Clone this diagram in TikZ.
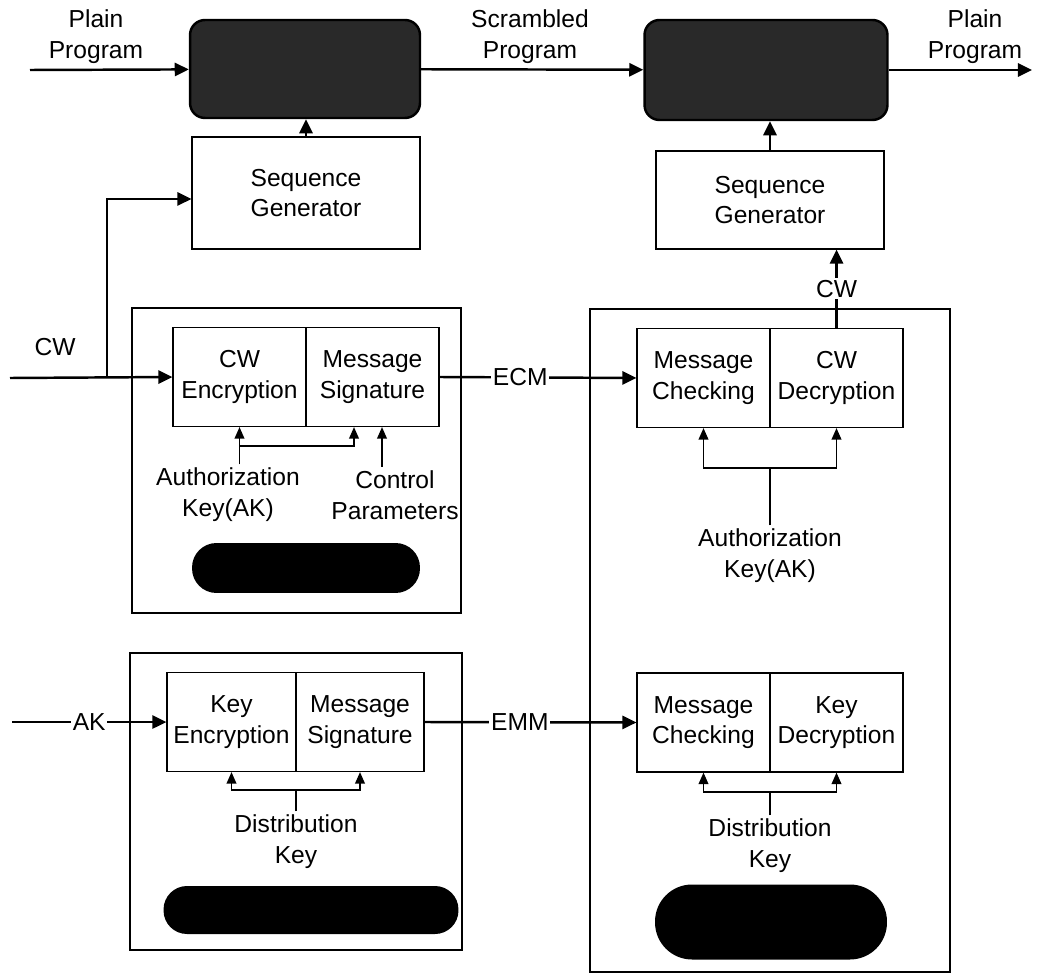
\documentclass[tikz,border=0pt]{standalone}
\usepackage{fontspec}
\setmainfont{Liberation Sans}
\usetikzlibrary{arrows.meta}

\begin{document}
\begin{tikzpicture}[x=0.02cm, y=-0.02cm,
  every node/.style={font=\fontsize{14}{17.5}\selectfont, align=center, inner sep=2pt},
  block/.style={draw, line width=0.7pt, minimum width=2.66cm, minimum height=1.98cm},
  seqbox/.style={draw, line width=0.7pt, minimum width=4.56cm},
  housing/.style={draw, line width=1.3pt},
  dark/.style={draw, line width=1.4pt, fill=black!84, rounded corners=0.3cm},
  pill/.style={fill=black},
  sig/.style={line width=1.4pt, -{Triangle[length=8pt,width=7.5pt]}},
  tap/.style={line width=0.8pt, -{Triangle[length=6.5pt,width=5.5pt]}},
  gap/.style={fill=white, inner sep=1pt}
]
\useasboundingbox (0,0) rectangle (1044,976);

% scrambling path
\node[dark, minimum width=4.6cm, minimum height=1.96cm] (scr) at (305,69) {};
\node[dark, minimum width=4.86cm, minimum height=2cm] (dscr) at (766,70) {};
\node (plainIn) at (96,37) {Plain\\Program};
\node (scrTxt) at (530,37) {Scrambled\\Program};
\node (plainOut) at (975,37) {Plain\\Program};
\coordinate (in) at (30,70);
\coordinate (out) at (1032,70);
\draw[sig] (in) -- (scr);
\draw[sig] (scr) -- (dscr);
\draw[sig] (dscr) -- (out);

\node[seqbox, minimum height=2.24cm] (seqL) at (306,193) {Sequence\\Generator};
\node[seqbox, minimum height=1.96cm] (seqR) at (770,200) {Sequence\\Generator};
\draw[sig] (seqL.north) -- (seqL.north |- scr.south);
\draw[sig] (seqR.north) -- (seqR.north |- dscr.south);

% ECM generator
\node[housing, minimum width=6.58cm, minimum height=6.1cm] (ecmg) at (296.5,460.5) {};
\node[block] (cwEnc) at (239.5,377) {CW\\Encryption};
\node[block] (msgSig1) at (372.5,377) {Message\\Signature};
\node[pill, minimum width=4.56cm, minimum height=1cm, rounded corners=0.49cm] (pillA) at (306,568) {};
\node (akL) at (228,495) {Authorization\\Key(AK)};
\node (ctrl) at (395,495) {Control\\Parameters};
\node (cwLbl) at (55,347) {CW};
\coordinate (cwIn) at (10,378);
\coordinate (cwFork) at (107,378);
\draw[sig] (cwIn) -- (cwEnc.west);
\draw[sig] (cwFork) |- ([yshift=-0.12cm]seqL.west);
\coordinate (akFork) at (cwEnc.south |- 0,446);
\draw[tap] (akL.north -| cwEnc.south) -- (cwEnc.south);
\draw[tap] (akFork) -| ([xshift=-0.37cm]msgSig1.south);
\draw[tap] ([xshift=0.19cm]msgSig1.south |- ctrl.north) -- ([xshift=0.19cm]msgSig1.south);

% descrambling side
\node[housing, minimum width=7.2cm, minimum height=13.26cm] (ird) at (770,640.5) {};
\node[block] (msgChk1) at (703.5,378) {Message\\Checking};
\node[block] (cwDec) at (836.5,378) {CW\\Decryption};
\draw[sig] (msgSig1.east) -- node[gap, pos=0.41] {ECM} (msgChk1.west);
\draw[sig] (cwDec.north) -- node[gap] {CW} (cwDec.north |- seqR.south);
\node (akR) at (770,556) {Authorization\\Key(AK)};
\coordinate (akForkR) at (770,468);
\draw[line width=0.8pt] (akR.north) -- (akForkR);
\draw[tap] (akForkR) -| (msgChk1.south);
\draw[tap] (akForkR) -| (cwDec.south);

% EMM generator
\node[housing, minimum width=6.64cm, minimum height=5.94cm] (emmg) at (296,801.5) {};
\node[block, minimum width=2.58cm] (keyEnc) at (231.5,722) {Key\\Encryption};
\node[block, minimum width=2.56cm] (msgSig2) at (360,722) {Message\\Signature};
\node (distL) at (296,842) {Distribution\\Key};
\coordinate (distForkL) at (296,790);
\draw[line width=0.8pt] (distL.north) -- (distForkL);
\draw[tap] (distForkL) -| (keyEnc.south);
\draw[tap] (distForkL) -| (msgSig2.south);
\node[pill, minimum width=5.9cm, minimum height=0.96cm, rounded corners=0.47cm] (pillB) at (311,910) {};
\coordinate (akIn) at (12,722);
\draw[sig] (akIn) -- node[gap] {AK} (keyEnc.west);

\node[block] (msgChk2) at (703.5,722.5) {Message\\Checking};
\node[block] (keyDec) at (836.5,722.5) {Key\\Decryption};
\draw[sig] (msgSig2.east) -- node[gap, pos=0.45] {EMM} (msgChk2.west);
\node (distR) at (770,846) {Distribution\\Key};
\coordinate (distForkR) at (770,792);
\draw[line width=0.8pt] (distR.north) -- (distForkR);
\draw[tap] (distForkR) -| (msgChk2.south);
\draw[tap] (distForkR) -| (keyDec.south);
\node[pill, minimum width=4.64cm, minimum height=1.5cm, rounded corners=0.74cm] (pillC) at (771,922) {};
\end{tikzpicture}
\end{document}
